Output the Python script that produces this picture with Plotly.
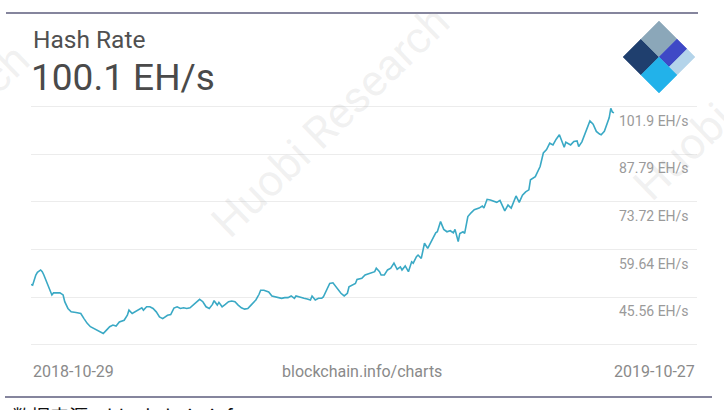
import pandas as pd
import plotly.graph_objects as go

# ---------------- data ----------------
start_date = "2018-10-29"
end_date = "2019-10-27"
day_offsets = [
    0, 1, 3, 4, 6, 7, 8, 10, 12, 13,
    14, 16, 18, 20, 21, 23, 25, 28, 31, 33,
    35, 37, 39, 41, 43, 45, 47, 49, 51, 53,
    55, 58, 60, 61, 63, 65, 67, 69, 70, 72,
    74, 76, 78, 80, 82, 85, 87, 89, 91, 93,
    95, 97, 99, 101, 103, 105, 107, 109, 111, 113,
    114, 116, 117, 119, 121, 123, 125, 127, 129, 131,
    133, 135, 137, 140, 142, 143, 145, 147, 148, 150,
    152, 154, 156, 158, 160, 162, 164, 165, 168, 170,
    172, 174, 175, 177, 179, 181, 182, 184, 186, 188,
    189, 191, 193, 195, 197, 198, 200, 202, 203, 206,
    208, 210, 212, 214, 215, 217, 218, 220, 222, 224,
    226, 228, 230, 231, 233, 235, 237, 238, 240, 241,
    243, 245, 247, 250, 252, 253, 255, 257, 259, 261,
    263, 264, 266, 267, 269, 270, 272, 274, 276, 279,
    281, 282, 284, 286, 288, 290, 292, 294, 295, 297,
    299, 302, 304, 306, 308, 310, 311, 314, 316, 317,
    319, 321, 323, 325, 327, 329, 332, 333, 336, 338,
    340, 341, 343, 346, 348, 350, 352, 354, 355, 357,
    359, 360, 361, 362, 363,
]
hash_rate = [
    49.3, 49.1, 52.1, 52.9, 53.6, 53.1, 52.1, 49.6, 47.1, 46.2,
    46.8, 46.7, 46.8, 46.2, 44.2, 42.2, 41.2, 41.0, 40.7, 39.2,
    37.8, 36.8, 36.3, 35.8, 35.3, 34.8, 35.8, 36.8, 37.3, 37.0,
    38.2, 38.7, 40.2, 41.7, 40.7, 41.2, 41.7, 42.4, 41.7, 42.7,
    42.7, 42.2, 41.2, 39.7, 39.2, 40.2, 40.4, 42.3, 42.7, 42.2,
    42.4, 42.2, 42.4, 43.2, 44.2, 44.9, 44.2, 42.7, 42.2, 43.4,
    44.5, 43.2, 44.0, 42.7, 43.4, 44.2, 44.4, 44.2, 43.2, 42.4,
    42.0, 42.2, 43.2, 44.7, 46.4, 47.6, 47.6, 47.3, 47.1, 45.9,
    45.6, 45.4, 45.2, 45.4, 45.4, 45.9, 45.2, 45.9, 45.4, 45.2,
    45.0, 44.7, 45.9, 44.7, 45.2, 45.2, 45.6, 47.6, 49.6, 49.8,
    49.1, 48.1, 46.7, 45.9, 46.7, 48.6, 49.1, 49.6, 50.8, 51.1,
    52.1, 52.4, 52.8, 53.1, 54.1, 53.1, 52.1, 52.1, 53.6, 54.1,
    55.6, 53.8, 54.5, 53.6, 54.8, 53.1, 56.0, 55.6, 57.5, 58.0,
    57.0, 61.5, 60.0, 62.5, 64.6, 64.9, 67.9, 65.6, 64.9, 65.2,
    64.6, 65.6, 62.0, 64.4, 64.9, 64.4, 69.4, 70.5, 71.4, 71.9,
    72.5, 71.9, 74.5, 74.3, 74.0, 73.6, 74.2, 72.3, 71.1, 72.8,
    71.9, 75.5, 73.6, 75.7, 76.7, 77.3, 80.3, 81.2, 83.2, 84.2,
    88.2, 89.2, 91.1, 90.6, 92.3, 93.6, 89.9, 91.4, 90.6, 91.6,
    91.8, 90.1, 91.5, 95.1, 97.7, 96.7, 94.6, 93.8, 93.6, 94.6,
    97.5, 98.6, 101.4, 100.3, 100.1,
]
y_tick_values = [31.48, 45.56, 59.64, 73.72, 87.79, 101.9]
y_tick_labels = ["", "45.56 EH/s", "59.64 EH/s", "73.72 EH/s", "87.79 EH/s", "101.9 EH/s"]
title_text = "Hash Rate"
current_value_text = "100.1 EH/s"
source_center_text = "blockchain.info/charts"
footer_text = "数据来源：blockchain.info"
watermark_text = "Huobi Research"

# ---------------- figure geometry ----------------
W, H = 724, 410
ML, MR, MT, MB = 31, 27, 103, 62
PW, PH = W - ML - MR, H - MT - MB


def px_x(x):
    return (x - ML) / PW


def px_y(y):
    return (H - MB - y) / PH


dates = pd.Timestamp(start_date) + pd.to_timedelta(day_offsets, unit="D")
# date axis: end date sits at px 614 of a 31..697 plot area
span_days = (pd.Timestamp(end_date) - pd.Timestamp(start_date)).days
x_end = pd.Timestamp(start_date) + pd.Timedelta(days=span_days * PW / (614 - ML))

fig = go.Figure()
fig.add_trace(go.Scatter(
    x=dates, y=hash_rate, mode="lines",
    line=dict(color="#3aa9c5", width=1.6),
    hoverinfo="skip", showlegend=False,
))

FONT = "Roboto"
annotations = []
# faint watermarks (drawn first, beneath other texts)
for cx, cy in [(330, 122), (752, 85), (-90, 160), (280, 545)]:
    annotations.append(dict(x=px_x(cx), xref="paper", y=px_y(cy), yref="paper",
                            text=watermark_text, showarrow=False, textangle=-44,
                            xanchor="center", yanchor="middle",
                            font=dict(family=FONT, size=44, color="rgba(170,170,170,0.17)")))
# y tick labels (below their gridlines, right aligned)
for v, lab in zip(y_tick_values, y_tick_labels):
    if not lab:
        continue
    annotations.append(dict(
        x=1, xref="paper", y=v, yref="y", text=lab, showarrow=False,
        xanchor="right", yanchor="middle", xshift=-6, yshift=-14,
        font=dict(family=FONT, size=14, color="#9a9a9a"),
    ))
# header
annotations.append(dict(x=px_x(31), xref="paper", y=px_y(39), yref="paper",
                        text=title_text, showarrow=False, xanchor="left", yanchor="middle",
                        font=dict(family=FONT, size=24.5, color="#505050")))
annotations.append(dict(x=px_x(29), xref="paper", y=px_y(77), yref="paper",
                        text=current_value_text, showarrow=False, xanchor="left", yanchor="middle",
                        font=dict(family=FONT, size=37, color="#4a4a4a")))
# bottom labels
annotations.append(dict(x=0, xref="paper", y=px_y(371), yref="paper",
                        text=start_date, showarrow=False, xanchor="left", yanchor="middle",
                        font=dict(family=FONT, size=16, color="#8a8a8a")))
annotations.append(dict(x=px_x(362), xref="paper", y=px_y(371), yref="paper",
                        text=source_center_text, showarrow=False, xanchor="center", yanchor="middle",
                        font=dict(family=FONT, size=16, color="#8a8a8a")))
annotations.append(dict(x=1, xref="paper", y=px_y(371), yref="paper",
                        text=end_date, showarrow=False, xanchor="right", yanchor="middle",
                        font=dict(family=FONT, size=16, color="#8a8a8a")))
# footer (cut off at bottom, as in the source image)
annotations.append(dict(x=px_x(10), xref="paper", y=px_y(400), yref="paper",
                        text=footer_text, showarrow=False, xanchor="left", yanchor="top",
                        font=dict(family="Noto Sans CJK SC", size=19, color="#111111")))

shapes = []
# separator lines
shapes.append(dict(type="line", xref="paper", yref="paper",
                   x0=px_x(6), x1=px_x(698), y0=px_y(13), y1=px_y(13),
                   line=dict(color="#5c5c7c", width=1.5)))
shapes.append(dict(type="line", xref="paper", yref="paper",
                   x0=px_x(5), x1=px_x(712), y0=px_y(397), y1=px_y(397),
                   line=dict(color="#5c5c7c", width=1.5)))

# logo: rotated square split into tiles
L = (623.0, 57.0)
T = (659.0, 21.0)
B = (659.0, 93.0)


def tile(a0, a1, b0, b1):
    pts = []
    for a, b in [(a0, b0), (a1, b0), (a1, b1), (a0, b1)]:
        x = L[0] + a * (T[0] - L[0]) + b * (B[0] - L[0])
        y = L[1] + a * (T[1] - L[1]) + b * (B[1] - L[1])
        pts.append((px_x(x), px_y(y)))
    return "M " + " L ".join(f"{p[0]:.5f},{p[1]:.5f}" for p in pts) + " Z"


logo_tiles = [
    ((0.0, 0.5, 0.0, 0.5), "#1f3f6e"),
    ((0.5, 1.0, 0.0, 0.5), "#8ba7b9"),
    ((0.5, 1.0, 0.5, 0.78), "#3f49c6"),
    ((0.5, 1.0, 0.78, 1.0), "#b4d4ea"),
    ((0.0, 0.5, 0.5, 1.0), "#22b2ea"),
]
for (a0, a1, b0, b1), col in logo_tiles:
    shapes.append(dict(type="path", xref="paper", yref="paper",
                       path=tile(a0, a1, b0, b1), fillcolor=col,
                       line=dict(color=col, width=0.5), layer="above"))

fig.update_layout(
    width=W, height=H,
    margin=dict(l=ML, r=MR, t=MT, b=MB, pad=0, autoexpand=False),
    paper_bgcolor="white", plot_bgcolor="white",
    showlegend=False,
    xaxis=dict(range=[pd.Timestamp(start_date), x_end], showgrid=False,
               showticklabels=False, zeroline=False, showline=False, ticks=""),
    yaxis=dict(range=[30.5, 103.0], tickvals=y_tick_values, showticklabels=False,
               showgrid=True, gridcolor="#ececec", gridwidth=1,
               zeroline=False, showline=False, ticks=""),
    annotations=annotations,
    shapes=shapes,
)

# remove the browser's default 8px page margin so the figure fills the window
fig.write_html("out.html",
               config={"displayModeBar": False, "staticPlot": True},
               post_script="document.body.style.margin='0';document.body.style.overflow='hidden';")
